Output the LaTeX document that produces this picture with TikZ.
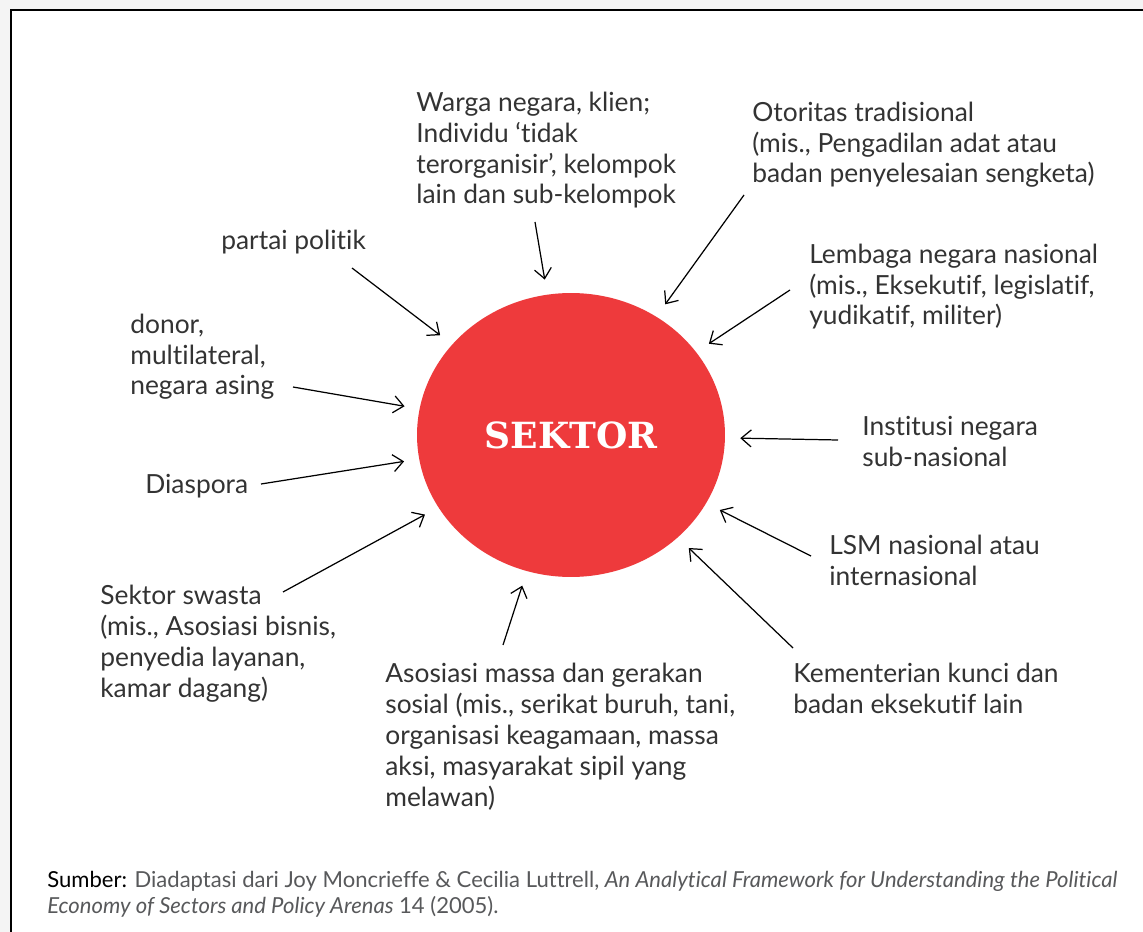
\documentclass[tikz,border=0pt]{standalone}
\usepackage{fontspec}
\setmainfont{Lato}[Ligatures={TeX,NoCommon}]
\newfontfamily\slabfont{DejaVu Serif}
\usetikzlibrary{arrows.meta,shapes.geometric}

\definecolor{sekred}{HTML}{EE3A3C}
\definecolor{txtgray}{HTML}{333333}
\definecolor{srcgray}{HTML}{58595B}
\definecolor{pagegray}{HTML}{F4F4F4}

\tikzset{
  lbl/.style={anchor=base west, align=left, inner sep=0pt, text=txtgray,
    font=\fontsize{15}{17.6}\selectfont},
  pijl/.style={-{Straight Barb[length=2mm,width=3.4mm]}, line width=0.7pt,
    shorten >=0.3cm},
}

\begin{document}
\begin{tikzpicture}[x=0.02cm,y=-0.02cm]
    \clip (0,0) rectangle (1143,932);
    \fill[pagegray] (0,0) rectangle (1143,932);
    \draw[line width=1.1pt,fill=white] (11,10) rectangle (1180,960);

    \node[ellipse,fill=sekred,minimum width=6.16cm,minimum height=5.68cm,inner sep=0pt,
          text=white,font=\slabfont\bfseries\fontsize{20.5}{24}\selectfont] (sektor) at (571,435) {SEKTOR};

    % labels round the circle (placed at the baseline of their last line)
    \node[lbl] (warga) at (416,204) {Warga negara, klien;\\Individu ‘tidak\\terorganisir’, kelompok\\lain dan sub-kelompok};
    \node[lbl] (otoritas) at (752,183) {Otoritas tradisional\\(mis., Pengadilan adat atau\\badan penyelesaian sengketa)};
    \node[lbl] (partai) at (221,250) {partai politik};
    \node[lbl] (lembaga) at (809,325) {Lembaga negara nasional\\(mis., Eksekutif, legislatif,\\yudikatif, militer)};
    \node[lbl] (donor) at (130,395) {donor,\\multilateral,\\negara asing};
    \node[lbl] (institusi) at (862,466) {Institusi negara\\sub-nasional};
    \node[lbl] (diaspora) at (145,494) {Diaspora};
    \node[lbl] (lsm) at (829,585) {LSM nasional atau\\internasional};
    \node[lbl] (swasta) at (100,697) {Sektor swasta\\(mis., Asosiasi bisnis,\\penyedia layanan,\\kamar dagang)};
    \node[lbl] (kementerian) at (793,713) {Kementerian kunci dan\\badan eksekutif lain};
    \node[lbl] (asosiasi) at (385,806) {Asosiasi massa dan gerakan\\sosial (mis., serikat buruh, tani,\\organisasi keagamaan, massa\\aksi, masyarakat sipil yang\\melawan)};

    % arrow tails
    \coordinate (warga-t) at (535,222);
    \coordinate (otoritas-t) at (744,195);
    \coordinate (partai-t) at (352,268);
    \coordinate (lembaga-t) at (790,290);
    \coordinate (donor-t) at (293,387);
    \coordinate (institusi-t) at (838,440);
    \coordinate (diaspora-t) at (261,484);
    \coordinate (lsm-t) at (811,556);
    \coordinate (swasta-t) at (283,592);
    \coordinate (kementerian-t) at (793,648);
    \coordinate (asosiasi-t) at (503,645);

    \foreach \t in {warga,otoritas,partai,lembaga,donor,institusi,diaspora,lsm,swasta,kementerian,asosiasi}
        \draw[pijl] (\t-t) -- (sektor);

    \node[anchor=base west,align=left,inner sep=0pt,text=srcgray,
          font=\fontsize{12.55}{14.7}\selectfont] (sumber) at (47,913)
        {{\color{black}Sumber:} Diadaptasi dari Joy Moncrieffe \& Cecilia Luttrell, \textit{An Analytical Framework for Understanding the Political}\\
         \textit{Economy of Sectors and Policy Arenas} 14 (2005).};
\end{tikzpicture}
\end{document}
